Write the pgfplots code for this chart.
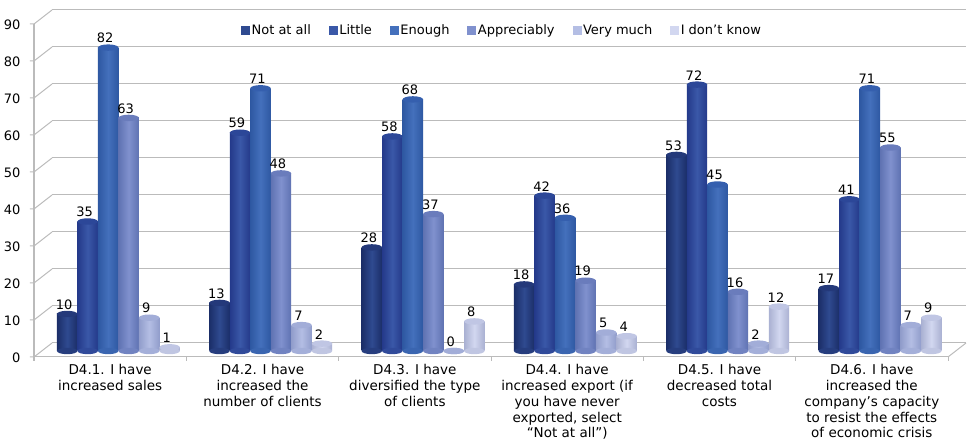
\documentclass[border=0pt]{standalone}
\usepackage{pgfplots}
\usepackage{pgfplotstable}
\usepackage{fontspec}
\pgfplotsset{compat=1.18}
\setmainfont{DejaVu Sans}

\definecolor{gridgray}{HTML}{BBBBBB}
\definecolor{edgeA}{HTML}{1B2E68}\definecolor{midA}{HTML}{2F4A90}\definecolor{capA}{HTML}{24397A}
\definecolor{edgeB}{HTML}{24398A}\definecolor{midB}{HTML}{3A58A8}\definecolor{capB}{HTML}{2C4798}
\definecolor{edgeC}{HTML}{2E58A2}\definecolor{midC}{HTML}{4470BC}\definecolor{capC}{HTML}{355FAE}
\definecolor{edgeD}{HTML}{5F72B2}\definecolor{midD}{HTML}{8091CE}\definecolor{capD}{HTML}{6A7CBC}
\definecolor{edgeE}{HTML}{919DCB}\definecolor{midE}{HTML}{B4BEE4}\definecolor{capE}{HTML}{A2ADD8}
\definecolor{edgeF}{HTML}{AAB1D2}\definecolor{midF}{HTML}{D2D7F0}\definecolor{capF}{HTML}{C0C6E4}

\pgfdeclareplotmark{cap}{%
  \pgfpathellipse{\pgfpointorigin}{\pgfqpoint{10.2pt}{0pt}}{\pgfqpoint{0pt}{3.2pt}}%
  \pgfusepathqfill}

\pgfplotstableread{
x zero a b c d e f
0 0 10 35 82 63 9 1
1 0 13 59 71 48 7 2
2 0 28 58 68 37 0 8
3 0 18 42 36 19 5 4
4 0 53 72 45 16 2 12
5 0 17 41 71 55 7 9
}\answers

% #1 column, #2 shift from the group centre, #3 colour suffix, #4 legend text
\newcommand{\cyl}[4]{%
  \addplot[forget plot, only marks, mark=cap, mark options={fill=mid#3!55!edge#3}, xshift=#2, yshift=-8pt]
    table[x=x,y=zero] {\answers};
  % one plot per bar, so that each bar gets its own shading
  \pgfplotsinvokeforeach{0,...,5}{
    \addplot[forget plot, ybar, bar width=20.4pt, bar shift=0pt, draw=none,
      left color=edge#3, right color=edge#3, middle color=mid#3, xshift=#2, yshift=-8pt,
      restrict x to domain=##1:##1]
      table[x=x,y=#1] {\answers};
  }
  \addplot[only marks, mark=cap, mark options={fill=cap#3}, xshift=#2, yshift=-8pt,
    legend image code/.code={\fill[mid#3] (0pt,4pt) rectangle (8pt,12pt);},
    nodes near coords, nodes near coords align={above},
    every node near coord/.append style={font=\fontsize{13}{15}\selectfont, xshift=-3pt, yshift=1pt, text=black}]
    table[x=x,y=#1] {\answers};
  \addlegendentry{#4}
}

\begin{document}
\begin{tikzpicture}[x=1pt,y=1pt]
\useasboundingbox (0,0) rectangle (972,444);
\begin{axis}[
  at={(52pt,101pt)}, anchor=south west,
  scale only axis, width=914pt, height=333pt,
  xmin=-0.5, xmax=5.5, ymin=0, ymax=90,
  clip=false,
  axis line style={draw=none},
  major tick length=0pt,
  ymajorgrids, grid style={gridgray, line width=1pt},
  ytick={0,10,...,90},
  xtick={0,...,5},
  xticklabels={
    {D4.1. I have\\increased sales},
    {D4.2. I have\\increased the\\number of clients},
    {D4.3. I have\\diversified the type\\of clients},
    {D4.4. I have\\increased export (if\\you have never\\exported, select\\“Not at all”)},
    {D4.5. I have\\decreased total\\costs},
    {D4.6. I have\\increased the\\company’s capacity\\to resist the effects\\of economic crisis}},
  x tick label style={font=\fontsize{13.5}{15.7}\selectfont, align=center, anchor=north, xshift=-18pt, yshift=-20.5pt, inner sep=1pt},
  y tick label style={font=\fontsize{13}{15}\selectfont, anchor=east, xshift=-28pt, yshift=-15pt},
  /pgf/number format/assume math mode=true,
  legend style={at={(0.2035,0.94)}, anchor=west, draw=none, fill=none, font=\fontsize{13}{15}\selectfont,
    legend columns=-1, /tikz/every even column/.append style={column sep=16pt}},
]
% walls and floor
\addplot[forget plot, gridgray, line width=1pt, xshift=-18pt, yshift=-14pt]
  coordinates {(-0.5,90) (-0.5,0) (5.5,0)};
\pgfplotsinvokeforeach{0,10,...,90}{
  \draw[gridgray, line width=1pt] (axis cs:-0.5,#1) -- ++(-18pt,-14pt) -- ++(-4pt,0pt);
}
\draw[gridgray, line width=1pt] (axis cs:5.5,0) -- ++(-18pt,-14pt);
\pgfplotsinvokeforeach{-0.5,0.5,...,5.5}{
  \draw[gridgray, line width=1pt] (axis cs:#1,0) ++(-18pt,-14pt) -- ++(0pt,-4pt);
}
\cyl{a}{-61pt}{A}{Not at all}
\cyl{b}{-40.5pt}{B}{Little}
\cyl{c}{-20pt}{C}{Enough}
\cyl{d}{0.5pt}{D}{Appreciably}
\cyl{e}{21pt}{E}{Very much}
\cyl{f}{41.5pt}{F}{I don't know}
\end{axis}
\end{tikzpicture}
\end{document}
